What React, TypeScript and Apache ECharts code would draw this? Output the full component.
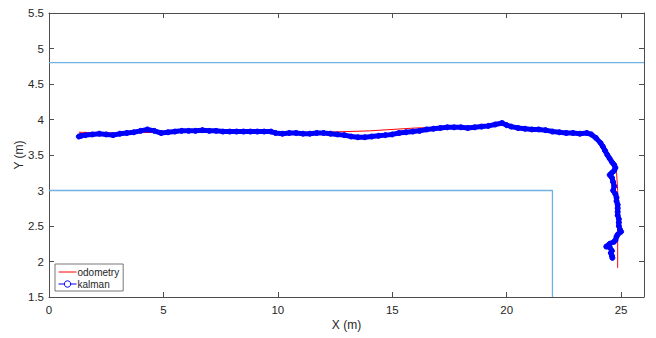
import React, { useEffect, useRef } from "react";
import * as echarts from "echarts";

const xTicks = [0, 5, 10, 15, 20, 25];
const yTicks = [1.5, 2, 2.5, 3, 3.5, 4, 4.5, 5, 5.5];

const odometry: [number, number][] = [
  [1.3, 3.82], [3, 3.81], [5, 3.82], [7, 3.83], [9, 3.82], [10, 3.81], [12, 3.82],
  [14, 3.84], [16, 3.88], [18, 3.9], [19.5, 3.93], [20, 3.92], [21, 3.87], [22, 3.83],
  [23, 3.81], [23.6, 3.81], [23.9, 3.77], [24.2, 3.65], [24.5, 3.5], [24.7, 3.38],
  [24.8, 3.25], [24.85, 3.0], [24.85, 2.5], [24.85, 1.91],
];

const kalman: [number, number][] = [
  [1.3, 3.76], [1.4, 3.77], [1.6, 3.78], [1.9, 3.79], [2.2, 3.8], [2.5, 3.79], [2.8, 3.78],
  [3.1, 3.8], [3.4, 3.81], [3.7, 3.82], [4.0, 3.84], [4.3, 3.86], [4.6, 3.84], [4.9, 3.81],
  [5.2, 3.82], [5.5, 3.83], [5.8, 3.84], [6.1, 3.84], [6.4, 3.84], [6.7, 3.85], [7.0, 3.84],
  [7.3, 3.84], [7.6, 3.83], [7.9, 3.83], [8.2, 3.83], [8.5, 3.83], [8.8, 3.83], [9.1, 3.83],
  [9.4, 3.83], [9.7, 3.83], [9.9, 3.81], [10.2, 3.8], [10.5, 3.81], [10.8, 3.81], [11.1, 3.8],
  [11.4, 3.8], [11.7, 3.81], [12.0, 3.81], [12.3, 3.8], [12.6, 3.79], [12.9, 3.78], [13.2, 3.76],
  [13.5, 3.75], [13.8, 3.75], [14.1, 3.76], [14.4, 3.77], [14.7, 3.78], [15.0, 3.79], [15.3, 3.81],
  [15.6, 3.82], [15.9, 3.83], [16.2, 3.84], [16.5, 3.86], [16.8, 3.87], [17.1, 3.88], [17.4, 3.89],
  [17.7, 3.89], [18.0, 3.89], [18.3, 3.88], [18.6, 3.89], [18.9, 3.9], [19.2, 3.91], [19.5, 3.93],
  [19.8, 3.95], [20.0, 3.92], [20.2, 3.9], [20.5, 3.88], [20.8, 3.87], [21.1, 3.86], [21.4, 3.86],
  [21.7, 3.85], [22.0, 3.83], [22.3, 3.82], [22.6, 3.81], [22.9, 3.81], [23.2, 3.8], [23.5, 3.81],
  [23.7, 3.79], [23.9, 3.74], [24.1, 3.67], [24.2, 3.62], [24.3, 3.56], [24.4, 3.5], [24.5, 3.45],
  [24.6, 3.4], [24.7, 3.36], [24.75, 3.32], [24.7, 3.28], [24.6, 3.25], [24.5, 3.22], [24.6, 3.18],
  [24.65, 3.12], [24.7, 3.06], [24.65, 3.0], [24.75, 2.95], [24.8, 2.9], [24.8, 2.85], [24.85, 2.8],
  [24.85, 2.75], [24.85, 2.7], [24.85, 2.65], [24.9, 2.6], [24.9, 2.55], [24.9, 2.5], [24.95, 2.45],
  [25.0, 2.42], [24.85, 2.38], [24.8, 2.35], [24.75, 2.3], [24.7, 2.28], [24.5, 2.25], [24.35, 2.21],
  [24.5, 2.2], [24.6, 2.15], [24.55, 2.12], [24.6, 2.08], [24.62, 2.05],
];

const wallTop: [number, number][] = [[0, 4.8], [26, 4.8]];
const wallBottom: [number, number][] = [[0, 3], [22, 3], [22, 1.5]];

const FONT = "'Liberation Sans', Arial, Helvetica, sans-serif";
const AXIS_COLOR = "#4d4d4d";
const TEXT_COLOR = "#262626";
const WALL_COLOR = "#6fb1e0";

export default function App() {
  const ref = useRef<HTMLDivElement>(null);
  useEffect(() => {
    if (!ref.current) return;
    const chart = echarts.init(ref.current, undefined, { renderer: "svg" });
    const axisCommon = {
      axisLine: { show: true, onZero: false, lineStyle: { color: AXIS_COLOR, width: 1 } },
      axisTick: { show: true, inside: true, length: 5, lineStyle: { color: AXIS_COLOR } },
      splitLine: { show: false },
    };
    chart.setOption({
      animation: false,
      backgroundColor: "#ffffff",
      textStyle: { fontFamily: FONT },
      grid: { left: 49, right: 12, top: 13, bottom: 41, containLabel: false },
      legend: {
        left: 55,
        top: 264,
        orient: "vertical",
        data: [
          { name: "odometry", itemStyle: { opacity: 0 } },
          { name: "kalman", itemStyle: { color: "#ffffff", borderColor: "#0000ff", borderWidth: 1 } },
        ],
        backgroundColor: "#ffffff",
        borderColor: "#555555",
        borderWidth: 0.8,
        borderRadius: 0,
        padding: [3, 4, 2, 3],
        itemGap: 2,
        itemWidth: 18,
        itemHeight: 8,
        lineStyle: { width: 1 },
        textStyle: { fontSize: 10, color: TEXT_COLOR, fontFamily: FONT, padding: [0, 0, 0, -4] },
      },
      xAxis: [
        {
          type: "value",
          min: 0,
          max: 26,
          interval: 5,
          position: "bottom",
          name: "X (m)",
          nameLocation: "middle",
          nameGap: 22,
          nameMoveOverlap: false,
          nameTextStyle: { fontSize: 12, color: TEXT_COLOR, fontFamily: FONT },
          axisLabel: { color: TEXT_COLOR, fontSize: 11.5, margin: 7, showMaxLabel: false, fontFamily: FONT },
          ...axisCommon,
        },
        {
          type: "value",
          min: 0,
          max: 26,
          interval: 5,
          position: "top",
          axisLabel: { show: false },
          ...axisCommon,
        },
      ],
      yAxis: [
        {
          type: "value",
          min: 1.5,
          max: 5.5,
          interval: 0.5,
          position: "left",
          name: "Y (m)",
          nameLocation: "middle",
          nameGap: 24,
          nameMoveOverlap: false,
          nameRotate: 90,
          nameTextStyle: { fontSize: 12, color: TEXT_COLOR, fontFamily: FONT },
          axisLabel: { color: TEXT_COLOR, fontSize: 11.5, margin: 5, fontFamily: FONT },
          ...axisCommon,
        },
        {
          type: "value",
          min: 1.5,
          max: 5.5,
          interval: 0.5,
          position: "right",
          axisLabel: { show: false },
          ...axisCommon,
        },
      ],
      series: [
        {
          name: "wallTop",
          type: "line",
          data: wallTop,
          showSymbol: false,
          symbol: "none",
          lineStyle: { color: WALL_COLOR, width: 1.3 },
          itemStyle: { color: WALL_COLOR },
          silent: true,
          z: 1,
        },
        {
          name: "wallBottom",
          type: "line",
          data: wallBottom,
          showSymbol: false,
          symbol: "none",
          lineStyle: { color: WALL_COLOR, width: 1.3 },
          itemStyle: { color: WALL_COLOR },
          silent: true,
          z: 1,
        },
        {
          name: "odometry",
          type: "line",
          data: odometry,
          symbol: "none",
          lineStyle: { color: "#ff0000", width: 1 },
          itemStyle: { color: "#ff0000" },
          z: 2,
        },
        {
          name: "kalman",
          type: "line",
          data: kalman,
          symbol: "circle",
          symbolSize: 5,
          showSymbol: true,
          lineStyle: { color: "#0000ff", width: 5 },
          itemStyle: { color: "#0000ff", borderColor: "#0000ff", borderWidth: 1 },
          z: 3,
        },
      ],
    });
    return () => chart.dispose();
  }, []);
  return <div ref={ref} style={{ width: 656, height: 338, position: "absolute", left: 0, top: 0 }} />;
}
